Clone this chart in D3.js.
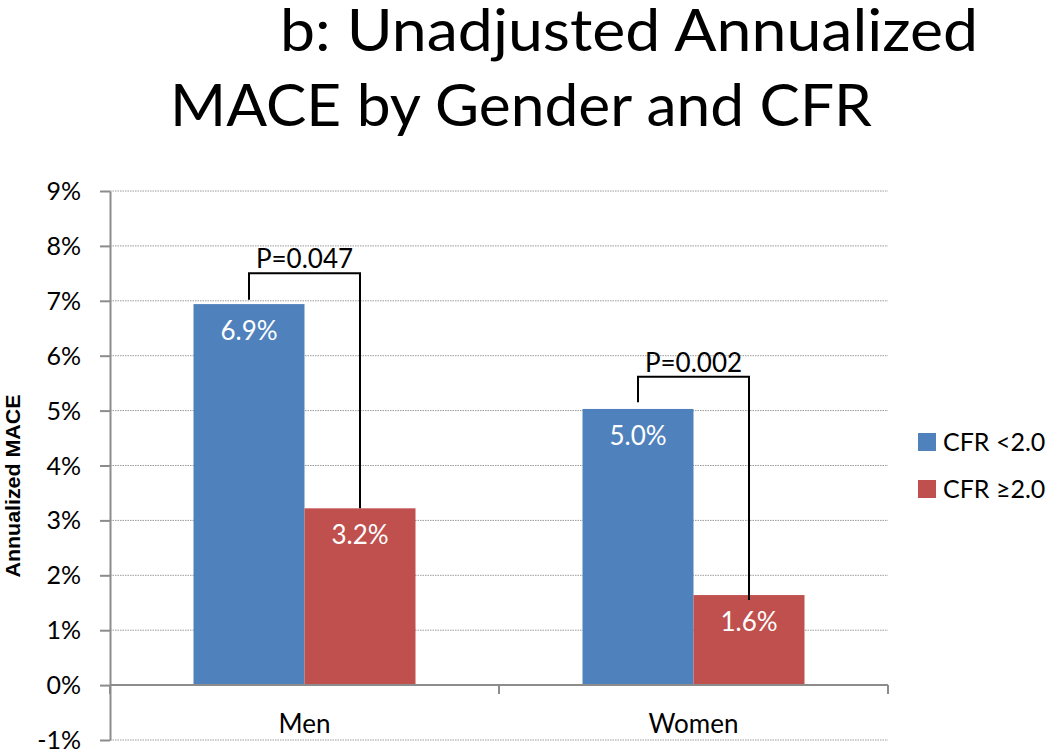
<!DOCTYPE html>
<html>
<head>
<meta charset="utf-8">
<script src="https://cdn.jsdelivr.net/npm/d3@7"></script>
<style>
  html, body { margin: 0; padding: 0; background: #fff; }
  svg { display: block; }
  text { font-family: Lato, "Open Sans", sans-serif; }
</style>
</head>
<body>
<svg id="chart" width="1050" height="749"></svg>
<script>
// ---- data ----
const titleLines = ["b: Unadjusted Annualized", "MACE by Gender and CFR"];
const categories = ["Men", "Women"];
const seriesNames = ["CFR <2.0", "CFR \u22652.0"];
const seriesColors = ["#4F81BD", "#C0504D"];
const cfrLow = [6.94, 5.03];    // CFR <2.0
const cfrHigh = [3.22, 1.64];   // CFR >=2.0
const valueLabels = [["6.9%", "3.2%"], ["5.0%", "1.6%"]];
const yTicks = [-1, 0, 1, 2, 3, 4, 5, 6, 7, 8, 9];
const yAxisTitle = "Annualized MACE";
const pLabels = ["P=0.047", "P=0.002"];
// bracket levels in data units: [left end, top, right end]
const bracketLevels = [[7.02, 7.5, 3.22], [5.15, 5.615, 1.55]];

// ---- layout ----
const svg = d3.select("#chart");
const plotL = 110, plotR = 888, plotT = 191, plotB = 740;

const y = d3.scaleLinear().domain([-1, 9]).range([plotB, plotT]);
const x0 = d3.scaleBand().domain(categories).range([plotL, plotR]).padding(0);
const groupW = 222;
const x1 = d3.scaleBand().domain(seriesNames)
  .range([(x0.bandwidth() - groupW) / 2, (x0.bandwidth() + groupW) / 2]).padding(0);

// gridlines
svg.append("g").selectAll("line").data(yTicks.filter(d => d !== 0)).join("line")
  .attr("x1", plotL).attr("x2", plotR)
  .attr("y1", d => y(d)).attr("y2", d => y(d))
  .attr("stroke", "#9a9a9a").attr("stroke-width", 1).attr("stroke-dasharray", "1.5,1");

// y axis
const yAxis = d3.axisLeft(y).tickValues(yTicks).tickSize(10).tickSizeOuter(0)
  .tickFormat(d => d + "%");
const gy = svg.append("g").attr("transform", `translate(${plotL},0)`).call(yAxis);
gy.select(".domain").attr("stroke", "#8c8c8c").attr("stroke-width", 2);
gy.selectAll(".tick line").attr("stroke", "#8c8c8c").attr("stroke-width", 2);
gy.selectAll(".tick text").attr("x", -29).attr("dy", "0.34em")
  .attr("font-size", 25).attr("fill", "#000").style("font-family", "Lato, sans-serif");

// bars
const rows = categories.map((c, i) => ({ cat: c, vals: [cfrLow[i], cfrHigh[i]], labels: valueLabels[i] }));
const groups = svg.append("g").selectAll("g").data(rows).join("g")
  .attr("transform", d => `translate(${x0(d.cat)},0)`);
groups.selectAll("rect").data(d => d.vals.map((v, j) => ({ v, s: seriesNames[j], j }))).join("rect")
  .attr("x", d => x1(d.s)).attr("width", x1.bandwidth())
  .attr("y", d => y(d.v)).attr("height", d => y(0) - y(d.v))
  .attr("fill", d => seriesColors[d.j]);
groups.selectAll("text.val").data(d => d.vals.map((v, j) => ({ v, s: seriesNames[j], lab: d.labels[j] }))).join("text")
  .attr("class", "val")
  .attr("x", d => x1(d.s) + x1.bandwidth() / 2)
  .attr("y", d => y(d.v) + 36)
  .attr("text-anchor", "middle").attr("fill", "#fff").attr("font-size", 26)
  .text(d => d.lab);

// x axis line + ticks
svg.append("line").attr("x1", plotL).attr("x2", plotR).attr("y1", y(0)).attr("y2", y(0))
  .attr("stroke", "#8c8c8c").attr("stroke-width", 2);
const xTickPos = categories.map(c => x0(c)).concat([x0(categories[categories.length - 1]) + x0.bandwidth()]);
svg.append("g").selectAll("line").data(xTickPos).join("line")
  .attr("x1", d => d).attr("x2", d => d).attr("y1", y(0)).attr("y2", y(0) + 9)
  .attr("stroke", "#8c8c8c").attr("stroke-width", 2);
svg.append("g").selectAll("text").data(categories).join("text")
  .attr("x", d => x0(d) + x0.bandwidth() / 2).attr("y", 733)
  .attr("text-anchor", "middle").attr("font-size", 26).attr("fill", "#000")
  .text(d => d);

// brackets
rows.forEach((r, i) => {
  const xl = x0(r.cat) + x1(seriesNames[0]) + x1.bandwidth() / 2;
  const xr = x0(r.cat) + x1(seriesNames[1]) + x1.bandwidth() / 2;
  const [a, t, b] = bracketLevels[i];
  svg.append("path")
    .attr("d", `M${xl},${y(a)}V${y(t)}H${xr}V${y(b)}`)
    .attr("fill", "none").attr("stroke", "#000").attr("stroke-width", 2);
  svg.append("text").attr("x", (xl + xr) / 2).attr("y", y(t) - 5)
    .attr("text-anchor", "middle").attr("font-size", 26).attr("fill", "#000")
    .text(pLabels[i]);
});

// legend
const leg = svg.append("g").selectAll("g").data(seriesNames).join("g")
  .attr("transform", (d, i) => `translate(918,${433 + i * 47})`);
leg.append("rect").attr("width", 18).attr("height", 18).attr("fill", (d, i) => seriesColors[i]);
leg.append("text").attr("x", 25).attr("y", 18).attr("font-size", 25).attr("fill", "#000").text(d => d);

// y axis title
svg.append("text")
  .attr("transform", `translate(20,486) rotate(-90)`)
  .attr("text-anchor", "middle")
  .style("font-family", "'Liberation Sans', Arial, sans-serif")
  .attr("font-weight", "bold").attr("font-size", 21).attr("fill", "#000")
  .attr("textLength", 183).attr("lengthAdjust", "spacingAndGlyphs")
  .text(yAxisTitle);

// title
const titlePos = [{ x: 280, y: 51, w: 698 }, { x: 170, y: 126, w: 702 }];
svg.append("g").selectAll("text").data(titleLines).join("text")
  .attr("x", (d, i) => titlePos[i].x).attr("y", (d, i) => titlePos[i].y)
  .attr("font-size", 58).attr("fill", "#000")
  .attr("textLength", (d, i) => titlePos[i].w).attr("lengthAdjust", "spacingAndGlyphs")
  .text(d => d);
</script>
</body>
</html>
